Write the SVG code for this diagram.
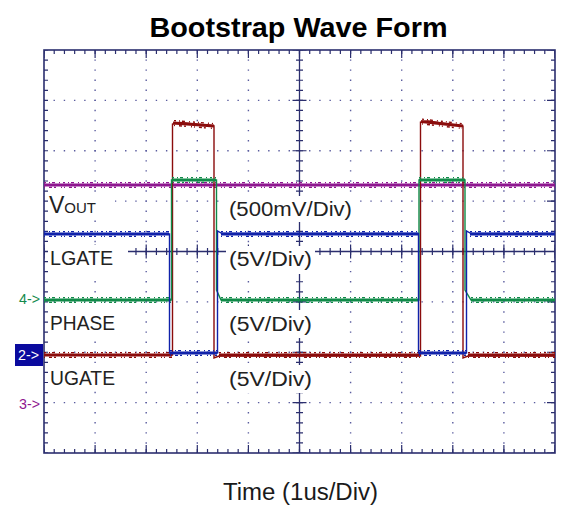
<svg xmlns="http://www.w3.org/2000/svg" width="573" height="505" viewBox="0 0 573 505">
<style>
text{font-family:"Liberation Sans",Arial,sans-serif;fill:#1a1a1a}
.ttl{font-size:27px;font-weight:bold;fill:#000}
.lbl{font-size:20px;fill:#222}
.ax{stroke:#2b2e6e;fill:none}
.dv{stroke:#5a5c9e;stroke-width:1.4;stroke-dasharray:1.4 8.675;stroke-dashoffset:0.7}
.dh{stroke:#5a5c9e;stroke-width:1.4;stroke-dasharray:1.4 8.82;stroke-dashoffset:0.7}
.tx{stroke-width:4;stroke-dasharray:1.2 9.02;stroke-dashoffset:0.6}
.ty{stroke-width:4;stroke-dasharray:1.2 8.875;stroke-dashoffset:0.6}
.mx{stroke-width:8;stroke-dasharray:1.2 49.9;stroke-dashoffset:0.6}
.my{stroke-width:8;stroke-dasharray:1.2 49.175;stroke-dashoffset:0.6}
.bg{fill:#fff}
.tr{fill:none;stroke-width:1.4}
.b{stroke-width:3}
.n1{stroke-width:1.4;stroke-dasharray:2 3 1 2 3 4 1 3}
.n2{stroke-width:1.4;stroke-dasharray:1 4 3 2 2 5 1 2}
.mg{stroke:#8e168f}.rd{stroke:#8b0c0c}.gr{stroke:#108a48}.bl{stroke:#1022aa}
.mk{font-size:15px}
</style>
<rect width="573" height="505" fill="#fff"/>
<text class="ttl" x="298.5" y="37" text-anchor="middle" textLength="298" lengthAdjust="spacingAndGlyphs">Bootstrap Wave Form</text>

<g id="grid">
<g class="dv">
<line x1="95.1" y1="50" x2="95.1" y2="453"/>
<line x1="146.2" y1="50" x2="146.2" y2="453"/>
<line x1="197.3" y1="50" x2="197.3" y2="453"/>
<line x1="248.4" y1="50" x2="248.4" y2="453"/>
<line x1="350.6" y1="50" x2="350.6" y2="453"/>
<line x1="401.7" y1="50" x2="401.7" y2="453"/>
<line x1="452.8" y1="50" x2="452.8" y2="453"/>
<line x1="503.9" y1="50" x2="503.9" y2="453"/>
</g>
<g class="dh">
<line x1="44" y1="100.4" x2="555" y2="100.4"/>
<line x1="44" y1="150.75" x2="555" y2="150.75"/>
<line x1="44" y1="201.1" x2="555" y2="201.1"/>
<line x1="44" y1="301.9" x2="555" y2="301.9"/>
<line x1="44" y1="352.25" x2="555" y2="352.25"/>
<line x1="44" y1="402.6" x2="555" y2="402.6"/>
</g>
<g class="ax">
<rect x="44" y="50" width="511" height="403" stroke-width="1.6"/>
<line class="tx" x1="44" y1="52" x2="555" y2="52"/>
<line class="tx" x1="44" y1="451" x2="555" y2="451"/>
<line class="ty" x1="46" y1="50" x2="46" y2="453"/>
<line class="ty" x1="553" y1="50" x2="553" y2="453"/>
<line class="mx" x1="44" y1="54" x2="555" y2="54"/>
<line class="mx" x1="44" y1="449" x2="555" y2="449"/>
<line class="my" x1="551" y1="50" x2="551" y2="453"/>
<line x1="44" y1="251.5" x2="555" y2="251.5" stroke-width="1.3"/>
<line x1="299.5" y1="50" x2="299.5" y2="453" stroke-width="1.3"/>
<line class="tx" x1="44" y1="251.5" x2="555" y2="251.5" style="stroke-width:7"/>
<line class="mx" x1="44" y1="251.5" x2="555" y2="251.5" style="stroke-width:14"/>
<line class="ty" x1="299.5" y1="50" x2="299.5" y2="453" style="stroke-width:7"/>
<line class="my" x1="299.5" y1="50" x2="299.5" y2="453" style="stroke-width:14"/>
</g>
</g>

<g id="label-boxes" class="bg">
<rect x="48" y="194" width="67" height="26"/>
<rect x="226" y="196" width="133" height="26"/>
<rect x="48" y="245" width="80" height="28"/>
<rect x="226" y="246" width="89" height="28"/>
<rect x="48" y="309" width="73" height="27"/>
<rect x="226" y="310" width="89" height="28"/>
<rect x="48" y="364" width="73" height="27"/>
<rect x="226" y="365" width="89" height="28"/>
</g>

<g id="connectors">
<g id="vout-trace">
<path class="tr mg" d="M44,185 H555"/>
<line class="mg b" x1="44" y1="185" x2="555" y2="185"/>
<line class="mg n1" x1="44" y1="182.6" x2="555" y2="182.6"/>
<line class="mg n2" x1="44" y1="187.4" x2="555" y2="187.4"/>
</g>
<g id="ugate-trace">
<path class="tr rd" d="M44,355 H172.5 V124 L180,122.5 L214,126 V358 L219,356 H420.5 V122 L428,121 L463,126 V358 L468,356 H555"/>
<g class="rd b">
<line x1="44" y1="355" x2="172" y2="355"/><line x1="219" y1="355" x2="420" y2="355"/><line x1="468" y1="355" x2="555" y2="355"/>
<line x1="173" y1="123" x2="214" y2="126"/><line x1="421" y1="121.5" x2="463" y2="126"/>
</g>
<g class="rd n1">
<line x1="44" y1="352.6" x2="172" y2="352.6"/><line x1="219" y1="352.6" x2="420" y2="352.6"/><line x1="468" y1="352.6" x2="555" y2="352.6"/>
<line x1="174" y1="120.6" x2="213" y2="123.6"/><line x1="422" y1="119.1" x2="462" y2="123.6"/>
</g>
<g class="rd n2">
<line x1="44" y1="357.4" x2="172" y2="357.4"/><line x1="219" y1="357.4" x2="420" y2="357.4"/><line x1="468" y1="357.4" x2="555" y2="357.4"/>
<line x1="174" y1="125.4" x2="213" y2="128.4"/><line x1="422" y1="123.9" x2="462" y2="128.4"/>
</g>
</g>
<g id="phase-trace">
<path class="tr gr" d="M44,300 H171.5 V180 H216.5 V290 L221,300 H419 V180 H465 V290 L471,300 H555"/>
<g class="gr b">
<line x1="44" y1="300" x2="171" y2="300"/><line x1="221" y1="300" x2="419" y2="300"/><line x1="471" y1="300" x2="555" y2="300"/>
<line x1="172" y1="180" x2="216" y2="180"/><line x1="419" y1="180" x2="465" y2="180"/>
</g>
<g class="gr n1">
<line x1="44" y1="297.6" x2="171" y2="297.6"/><line x1="221" y1="297.6" x2="419" y2="297.6"/><line x1="471" y1="297.6" x2="555" y2="297.6"/>
<line x1="172" y1="177.6" x2="216" y2="177.6"/><line x1="419" y1="177.6" x2="465" y2="177.6"/>
</g>
<g class="gr n2">
<line x1="44" y1="302.4" x2="171" y2="302.4"/><line x1="221" y1="302.4" x2="419" y2="302.4"/><line x1="471" y1="302.4" x2="555" y2="302.4"/>
<line x1="172" y1="182.4" x2="216" y2="182.4"/><line x1="419" y1="182.4" x2="465" y2="182.4"/>
</g>
</g>
<g id="lgate-trace">
<path class="tr bl" d="M44,234 H169.5 V353 H217.5 V231 L222,233.5 H418.5 V353 H466.5 V231 L471,233.5 H555"/>
<g class="bl b">
<line x1="44" y1="234" x2="169" y2="234"/><line x1="221" y1="234" x2="418" y2="234"/><line x1="470" y1="234" x2="555" y2="234"/>
<line x1="170" y1="353" x2="217" y2="353"/><line x1="419" y1="353" x2="466" y2="353"/>
</g>
<g class="bl n1">
<line x1="44" y1="231.6" x2="169" y2="231.6"/><line x1="221" y1="231.6" x2="418" y2="231.6"/><line x1="470" y1="231.6" x2="555" y2="231.6"/>
<line x1="170" y1="350.6" x2="217" y2="350.6"/><line x1="419" y1="350.6" x2="466" y2="350.6"/>
</g>
<g class="bl n2">
<line x1="44" y1="236.4" x2="169" y2="236.4"/><line x1="221" y1="236.4" x2="418" y2="236.4"/><line x1="470" y1="236.4" x2="555" y2="236.4"/>
<line x1="170" y1="355.4" x2="217" y2="355.4"/><line x1="419" y1="355.4" x2="466" y2="355.4"/>
</g>
</g>
</g>

<g id="vout-label">
<text class="lbl" x="49" y="213" style="font-size:23px">V<tspan style="font-size:15px">OUT</tspan></text>
<text class="lbl" x="229" y="216" textLength="123" lengthAdjust="spacingAndGlyphs">(500mV/Div)</text>
</g>
<g id="lgate-label">
<text class="lbl" x="50" y="265" textLength="63" lengthAdjust="spacingAndGlyphs">LGATE</text>
<text class="lbl" x="229" y="266" textLength="83" lengthAdjust="spacingAndGlyphs">(5V/Div)</text>
</g>
<g id="phase-label">
<text class="lbl" x="50" y="330" textLength="65" lengthAdjust="spacingAndGlyphs">PHASE</text>
<text class="lbl" x="229" y="331" textLength="83" lengthAdjust="spacingAndGlyphs">(5V/Div)</text>
</g>
<g id="ugate-label">
<text class="lbl" x="50" y="385" textLength="65" lengthAdjust="spacingAndGlyphs">UGATE</text>
<text class="lbl" x="229" y="386" textLength="83" lengthAdjust="spacingAndGlyphs">(5V/Div)</text>
</g>

<g id="ch4-marker"><text class="mk" x="19" y="304" textLength="21" lengthAdjust="spacingAndGlyphs" style="fill:#138a4c">4-&gt;</text></g>
<g id="ch2-marker"><rect x="15" y="344" width="28" height="22" fill="#0a0a9e"/><text class="mk" x="18" y="360" textLength="21" lengthAdjust="spacingAndGlyphs" style="fill:#fff">2-&gt;</text></g>
<g id="ch3-marker"><text class="mk" x="19" y="409" textLength="21" lengthAdjust="spacingAndGlyphs" style="fill:#8e168f">3-&gt;</text></g>

<text x="300.5" y="500" text-anchor="middle" style="font-size:23px" textLength="155" lengthAdjust="spacingAndGlyphs">Time (1us/Div)</text>
</svg>
